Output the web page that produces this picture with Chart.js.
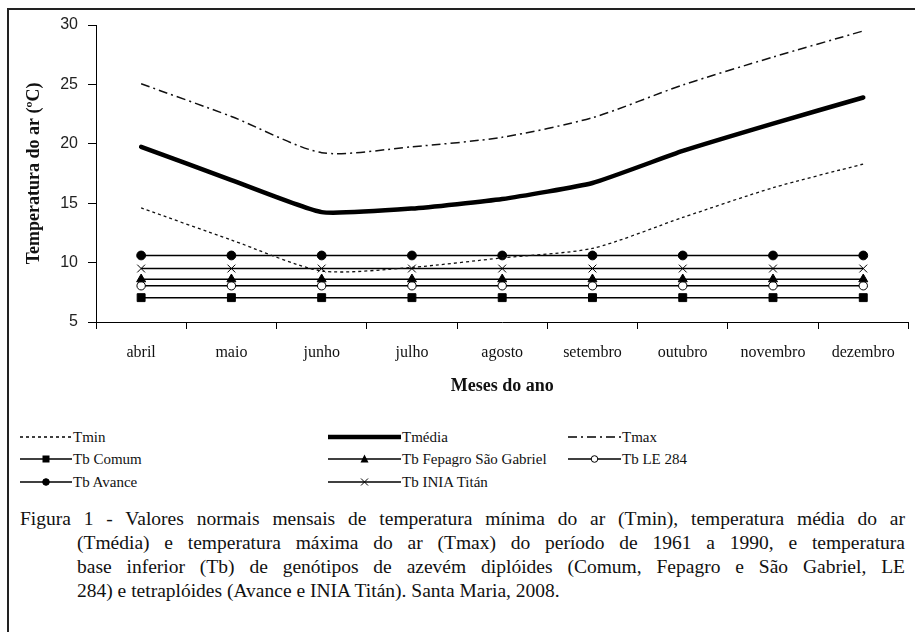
<!DOCTYPE html>
<html>
<head>
<meta charset="utf-8">
<script src="https://cdn.jsdelivr.net/npm/chart.js@4.4.1/dist/chart.umd.min.js"></script>
<style>
  html, body { margin: 0; padding: 0; background: #fff; }
  #wrap { position: relative; width: 915px; height: 632px; overflow: hidden; background:#fff; }
  #frame { position: absolute; left: 7px; top: 8px; width: 950px; height: 700px; border-left: 2px solid #222; border-top: 2px solid #222; }
  #chartBox { position: absolute; left: 0; top: 0; width: 915px; height: 400px; }
  .leg { position: absolute; font-family: "Liberation Serif", serif; font-size: 15px; color: #111; height: 18px; line-height: 18px; white-space: nowrap; }
  .leg svg { position: absolute; left: 0; top: 0; }
  .leg span { position: absolute; top: 0; }
  .cap { position: absolute; font-family: "Liberation Serif", serif; font-size: 19.5px; color: #111; line-height: 22px; white-space: nowrap; }
  .just { text-align: justify; text-align-last: justify; white-space: normal; }
</style>
</head>
<body>
<div id="wrap">
  <div id="frame"></div>
  <div id="chartBox"><canvas id="c" width="915" height="400"></canvas></div>
  <div id="legend"></div>
  <div class="cap just" style="left:20px; top:508px; width:885px;">Figura 1 - Valores normais mensais de temperatura mínima do ar (Tmin), temperatura média do ar</div>
  <div class="cap just" style="left:77px; top:532px; width:828px;">(Tmédia) e temperatura máxima do ar (Tmax) do período de 1961 a 1990, e temperatura</div>
  <div class="cap just" style="left:77px; top:556px; width:828px;">base inferior (Tb) de genótipos de azevém diplóides (Comum, Fepagro e São Gabriel, LE</div>
  <div class="cap" style="left:77px; top:580px;">284) e tetraplóides (Avance e INIA Titán). Santa Maria, 2008.</div>
</div>
<script>
const months = ['abril','maio','junho','julho','agosto','setembro','outubro','novembro','dezembro'];
const tmin   = [14.6, 11.9, 9.3, 9.6, 10.4, 11.2, 13.8, 16.3, 18.3];
const tmedia = [19.75, 16.95, 14.25, 14.55, 15.35, 16.7, 19.4, 21.7, 23.9];
const tmax   = [25.05, 22.3, 19.25, 19.75, 20.55, 22.2, 24.95, 27.3, 29.5];
const tbComum   = [7.05, 7.05, 7.05, 7.05, 7.05, 7.05, 7.05, 7.05, 7.05];
const tbFepagro = [8.6, 8.6, 8.6, 8.6, 8.6, 8.6, 8.6, 8.6, 8.6];
const tbLE284   = [8.05, 8.05, 8.05, 8.05, 8.05, 8.05, 8.05, 8.05, 8.05];
const tbAvance  = [10.6, 10.6, 10.6, 10.6, 10.6, 10.6, 10.6, 10.6, 10.6];
const tbINIA    = [9.5, 9.5, 9.5, 9.5, 9.5, 9.5, 9.5, 9.5, 9.5];
const yTicks = [5, 10, 15, 20, 25, 30];
const seriesNames = ['Tmin','Tmédia','Tmax','Tb Comum','Tb Fepagro São Gabriel','Tb LE 284','Tb Avance','Tb INIA Titán'];

const K = '#000';
function tb(label, data, style, radius, bg) {
  return { label, data, borderColor: K, borderWidth: 1.5, pointStyle: style, pointRadius: radius,
    pointBackgroundColor: bg || K, pointBorderColor: K, pointBorderWidth: 1, tension: 0, pointHoverRadius: radius };
}
const datasets = [
  { label: seriesNames[0], data: tmin, borderColor: '#111', borderWidth: 1.3, borderDash: [3, 3], pointRadius: 0, tension: 0.25 },
  { label: seriesNames[1], data: tmedia, borderColor: K, borderWidth: 4.5, pointRadius: 0, tension: 0.15, borderCapStyle: 'round' },
  { label: seriesNames[2], data: tmax, borderColor: '#111', borderWidth: 1.5, borderDash: [9, 4, 2, 4], pointRadius: 0, tension: 0.25 },
  tb(seriesNames[3], tbComum, 'rect', 5.6),
  tb(seriesNames[4], tbFepagro, 'triangle', 5.2),
  tb(seriesNames[5], tbLE284, 'circle', 4.2, '#fff'),
  tb(seriesNames[6], tbAvance, 'circle', 4.4),
  tb(seriesNames[7], tbINIA, 'crossRot', 5.5)
];

const chart = new Chart(document.getElementById('c'), {
  type: 'line',
  data: { labels: months, datasets },
  options: {
    responsive: false, animation: false, devicePixelRatio: 1,
    layout: { padding: { left: 0, right: 6, top: 25, bottom: 0 } },
    plugins: { legend: { display: false }, tooltip: { enabled: false } },
    scales: {
      x: {
        type: 'category', offset: true,
        grid: { offset: true, drawOnChartArea: false, drawTicks: true, tickLength: 7, color: K, lineWidth: 1 },
        border: { color: K, width: 1 },
        ticks: { color: '#111', font: { family: 'Liberation Serif', size: 16 }, padding: 14, maxRotation: 0, autoSkip: false },
        title: { display: true, text: 'Meses do ano', color: '#111', font: { family: 'Liberation Serif', size: 18, weight: 'bold' }, padding: { top: 0, bottom: 3 } },
        afterFit: s => { s.height = 400 - 322; }
      },
      y: {
        min: 5, max: 30,
        afterBuildTicks: s => { s.ticks = yTicks.map(v => ({ value: v })); },
        grid: { drawOnChartArea: false, drawTicks: true, tickLength: 8, color: K, lineWidth: 1 },
        border: { color: K, width: 1 },
        ticks: { color: '#222', font: { family: 'Liberation Sans', size: 16 }, padding: 10 },
        title: { display: true, text: 'Temperatura do ar (ºC)', color: '#111', font: { family: 'Liberation Serif', size: 18, weight: 'bold' }, padding: { top: 24, bottom: 0 } },
        afterFit: s => { s.width = 96; }
      }
    }
  }
});

// HTML legend built from dataset styles
const legendLayout = [
  { i: 0, x: 20, y: 437, w: 52 }, { i: 1, x: 328, y: 437, w: 73 }, { i: 2, x: 568, y: 437, w: 53 },
  { i: 3, x: 20, y: 459, w: 52 }, { i: 4, x: 328, y: 459, w: 73 }, { i: 5, x: 568, y: 459, w: 53 },
  { i: 6, x: 20, y: 482, w: 52 }, { i: 7, x: 328, y: 482, w: 73 }
];
const legendEl = document.getElementById('legend');
legendLayout.forEach(L => {
  const ds = datasets[L.i];
  const div = document.createElement('div');
  div.className = 'leg';
  div.style.left = L.x + 'px';
  div.style.top = (L.y - 9) + 'px';
  div.style.width = '260px';
  const cy = 9, w = L.w, cx = w / 2;
  let svg = `<svg width="${w}" height="18" xmlns="http://www.w3.org/2000/svg">`;
  const dash = ds.borderDash ? ds.borderDash.join(',') : '';
  const sw = ds.borderWidth;
  svg += `<line x1="0" y1="${cy}" x2="${w}" y2="${cy}" stroke="#000" stroke-width="${sw}" ${dash ? `stroke-dasharray="${dash}"` : ''} />`;
  const ps = ds.pointStyle;
  if (ps === 'rect') svg += `<rect x="${cx-3.5}" y="${cy-3.5}" width="7" height="7" fill="#000"/>`;
  if (ps === 'triangle') svg += `<polygon points="${cx},${cy-4.5} ${cx-4},${cy+3.5} ${cx+4},${cy+3.5}" fill="#000"/>`;
  if (ps === 'circle') svg += `<circle cx="${cx}" cy="${cy}" r="3.3" fill="${ds.pointBackgroundColor}" stroke="#000" stroke-width="1"/>`;
  if (ps === 'crossRot') svg += `<path d="M${cx-3.5},${cy-3.5} L${cx+3.5},${cy+3.5} M${cx-3.5},${cy+3.5} L${cx+3.5},${cy-3.5}" stroke="#000" stroke-width="1"/>`;
  svg += `</svg>`;
  div.innerHTML = svg + `<span style="left:${w + 1}px">${ds.label}</span>`;
  legendEl.appendChild(div);
});
</script>
</body>
</html>
